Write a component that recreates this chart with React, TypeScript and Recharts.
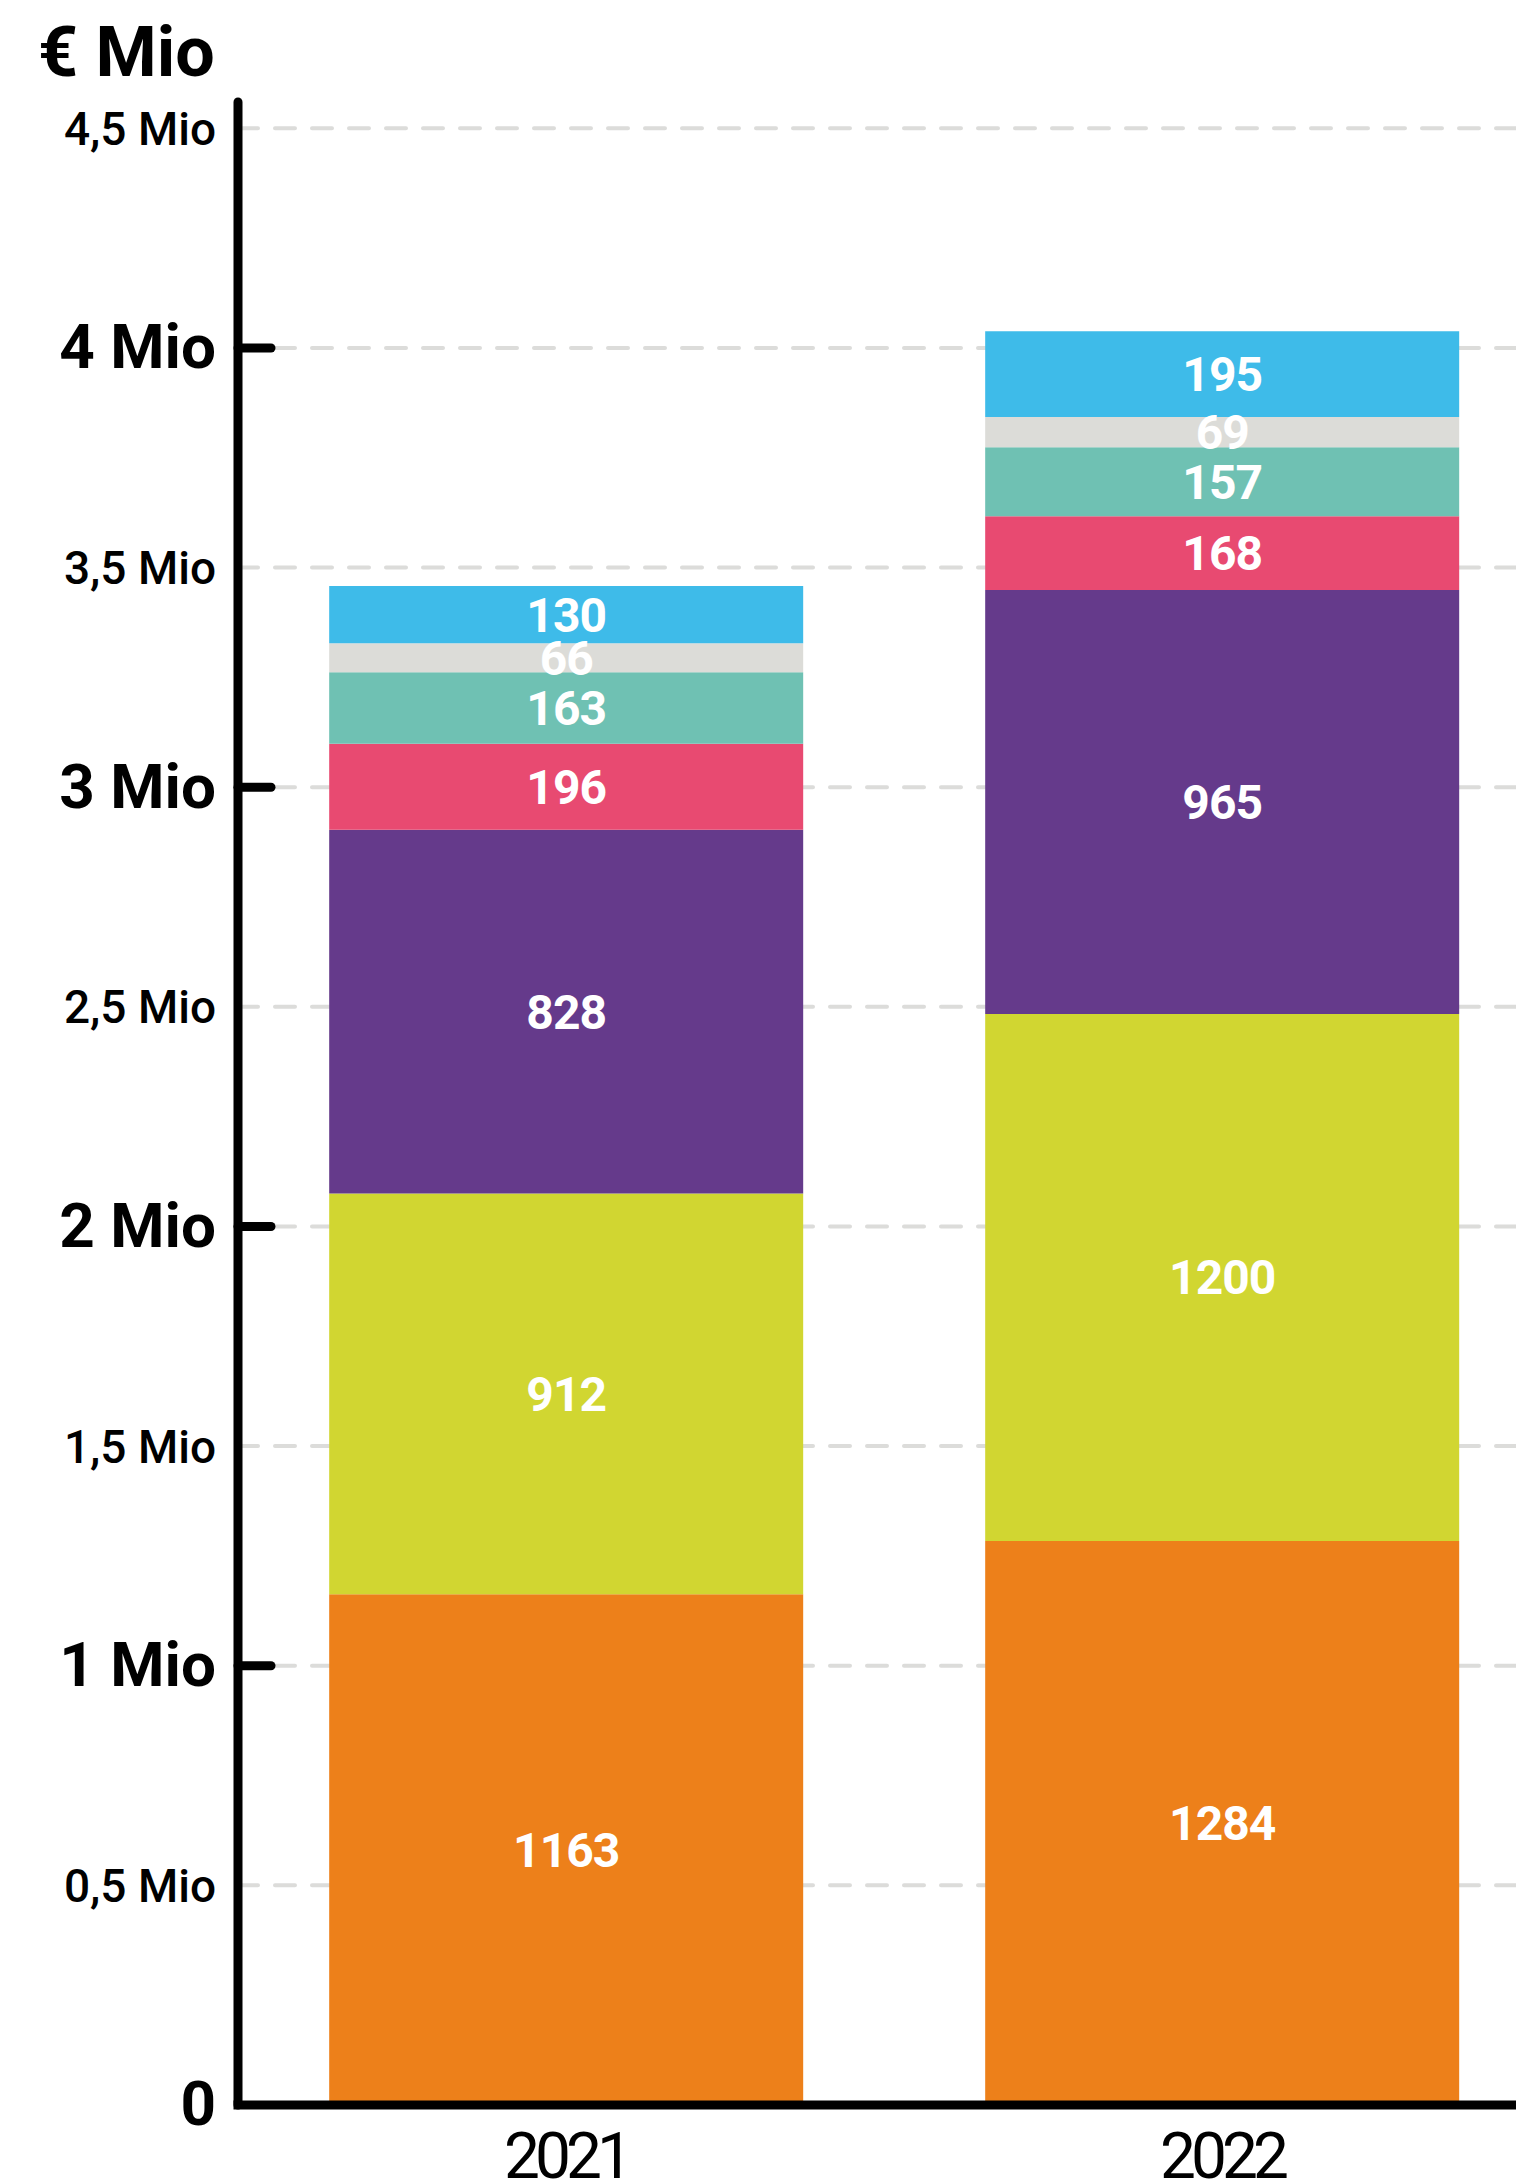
import { Bar, BarChart, CartesianGrid, LabelList, XAxis, YAxis } from 'recharts';

const years = ['2021', '2022'];

// values in thousand €
const orange = [1163, 1284];
const lime = [912, 1200];
const purple = [828, 965];
const pink = [196, 168];
const teal = [163, 157];
const grey = [66, 69];
const blue = [130, 195];

const yTicks = [0, 500, 1000, 1500, 2000, 2500, 3000, 3500, 4000, 4500];
const yTickLabels = ['0', '0,5 Mio', '1 Mio', '1,5 Mio', '2 Mio', '2,5 Mio', '3 Mio', '3,5 Mio', '4 Mio', '4,5 Mio'];

const series = [
  { key: 'orange', values: orange, color: '#ED801A' },
  { key: 'lime', values: lime, color: '#D1D631' },
  { key: 'purple', values: purple, color: '#653A8B' },
  { key: 'pink', values: pink, color: '#E84A71' },
  { key: 'teal', values: teal, color: '#6FC1B3' },
  { key: 'grey', values: grey, color: '#DCDCD8' },
  { key: 'blue', values: blue, color: '#3EBBE9' },
];

const data = years.map((year, i) => {
  const row: Record<string, string | number> = { year };
  series.forEach((s) => {
    row[s.key] = s.values[i];
  });
  return row;
});

const font = 'Roboto, "Noto Sans", sans-serif';

function YTick(props: any) {
  const { x, y, payload } = props;
  const idx = yTicks.indexOf(payload.value);
  const major = payload.value % 1000 === 0;
  return (
    <g>
      {major && payload.value > 0 && (
        <line
          x1={x + 22}
          x2={x + 55}
          y1={y}
          y2={y}
          stroke="#000"
          strokeWidth={9}
          strokeLinecap="round"
        />
      )}
      <text
        x={x}
        y={y}
        dy={major ? '0.33em' : '0.36em'}
        textAnchor="end"
        fontFamily={font}
        fontSize={major ? 62 : 46}
        fontWeight={major ? 700 : 500}
        fill="#000"
      >
        {yTickLabels[idx]}
      </text>
    </g>
  );
}

function XTick(props: any) {
  const { x, y, payload } = props;
  return (
    <text
      x={x}
      y={y + 73}
      textAnchor="middle"
      fontFamily={font}
      fontSize={64}
      letterSpacing={-5}
      fill="#000"
    >
      {payload.value}
    </text>
  );
}

export default function App() {
  return (
    <div
      style={{
        position: 'fixed',
        left: 0,
        top: 0,
        width: 1516,
        height: 2184,
        overflow: 'hidden',
        background: '#fff',
      }}
    >
      <div
        style={{
          position: 'absolute',
          left: 38,
          top: 17,
          fontFamily: font,
          fontSize: 70,
          fontWeight: 700,
          lineHeight: '70px',
          color: '#000',
        }}
      >
        € Mio
      </div>
      <BarChart
        width={1560}
        height={2184}
        data={data}
        margin={{ top: 102, right: 10, bottom: 0, left: 0 }}
        barCategoryGap="13.9%"
      >
        <CartesianGrid
          vertical={false}
          horizontalValues={yTicks}
          stroke="#DCDCDA"
          strokeWidth={4}
          strokeDasharray="20 17"
          strokeLinecap="round"
        />
        <XAxis
          dataKey="year"
          height={79}
          axisLine={{ stroke: '#000', strokeWidth: 9, strokeLinecap: 'square' }}
          tickLine={false}
          tickSize={0}
          tickMargin={0}
          tick={<XTick />}
        />
        <YAxis
          type="number"
          width={238}
          domain={[0, 4560]}
          ticks={yTicks}
          interval={0}
          axisLine={{ stroke: '#000', strokeWidth: 9, strokeLinecap: 'round' }}
          tickLine={false}
          tickSize={0}
          tickMargin={22}
          tick={<YTick />}
        />
        {series.map((s) => (
          <Bar key={s.key} dataKey={s.key} stackId="a" fill={s.color} isAnimationActive={false}>
            <LabelList
              dataKey={s.key}
              position="center"
              fill="#fff"
              fontFamily={font}
              fontSize={48}
              fontWeight={700}
              letterSpacing={-1}
            />
          </Bar>
        ))}
      </BarChart>
    </div>
  );
}
